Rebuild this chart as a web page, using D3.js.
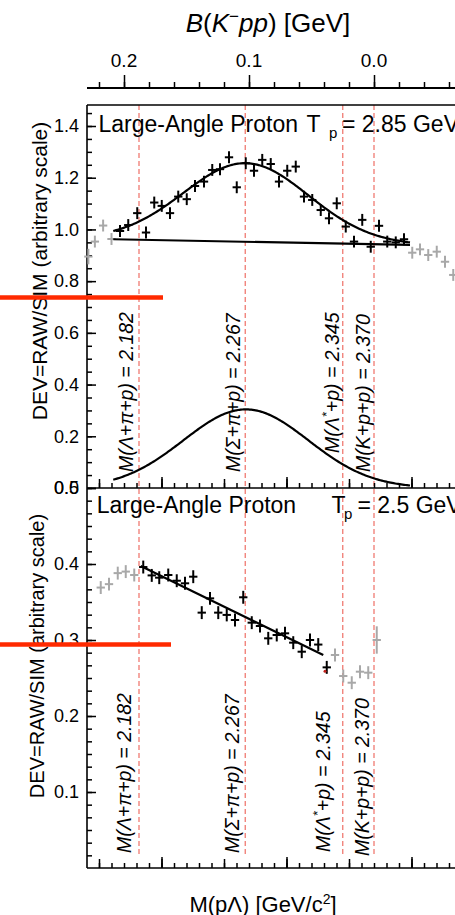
<!DOCTYPE html>
<html><head><meta charset="utf-8">
<script src="https://cdn.jsdelivr.net/npm/d3@7"></script>
<style>
body{margin:0;background:#fff;}
svg{display:block;font-family:"Liberation Sans",Arial,Helvetica,sans-serif;}
</style></head><body>
<svg id="c" width="455" height="915"></svg>
<script>
// ---------------- DATA ----------------
// Panel 1 (Tp = 2.85 GeV): fitted points (black)
const p1M = [2.1668,2.1734,2.1806,2.1876,2.1942,2.2002,2.2068,2.2134,2.2202,2.2268,2.2340,2.2406,2.2468,2.2540,2.2602,2.2674,2.2740,2.2806,2.2874,2.2940,2.3006,2.3074,2.3140,2.3206,2.3274,2.3340,2.3402,2.3474,2.3540,2.3606,2.3674,2.3740,2.3806,2.3874,2.3940];
const p1Val = [0.994,1.017,1.063,0.988,1.104,1.091,1.063,1.127,1.117,1.168,1.185,1.230,1.233,1.279,1.163,1.256,1.227,1.269,1.253,1.185,1.227,1.243,1.127,1.114,1.075,1.043,1.101,1.011,0.953,1.037,0.933,1.014,0.953,0.950,0.962];
const p1Err = [0.023,0.023,0.023,0.023,0.023,0.023,0.023,0.023,0.023,0.023,0.023,0.023,0.023,0.023,0.023,0.023,0.023,0.023,0.023,0.023,0.023,0.023,0.023,0.023,0.023,0.023,0.023,0.023,0.023,0.023,0.023,0.023,0.023,0.023,0.023];
// Panel 1: points outside fit range (grey)
const p1GrayM = [2.1415,2.1467,2.1533,2.1600,2.4006,2.4068,2.4134,2.4202,2.4268,2.4334];
const p1GrayVal = [0.895,0.953,1.015,0.963,0.910,0.923,0.901,0.914,0.875,0.824];
const p1GrayErr = [0.030,0.023,0.023,0.023,0.023,0.023,0.023,0.023,0.023,0.023];
// Panel 1 fit: Gaussian + linear background
const p1FitRange = [2.1614, 2.3988];
const p1BgEnds = [0.962, 0.940];
const p1GaussMean = 2.2675, p1GaussSigma = 0.050, p1GaussAmp = 0.304;

// Panel 2 (Tp = 2.5 GeV)
const p2M = [2.1854,2.1922,2.1982,2.2054,2.2122,2.2188,2.2254,2.2322,2.2388,2.2454,2.2522,2.2588,2.2654,2.2722,2.2788,2.2854,2.2922,2.2988,2.3054,2.3122,2.3188,2.3254,2.3322];
const p2Val = [0.396,0.385,0.382,0.3855,0.378,0.3746,0.3833,0.336,0.3548,0.336,0.333,0.3263,0.3562,0.3228,0.3184,0.3022,0.3066,0.3088,0.2965,0.2846,0.300,0.294,0.264];
const p2Err = [0.0085,0.0085,0.0085,0.0085,0.0085,0.0085,0.0085,0.0085,0.0085,0.0085,0.0085,0.0085,0.0085,0.0085,0.0085,0.0085,0.0085,0.0085,0.0085,0.0085,0.0085,0.0085,0.0085];
const p2GrayM = [2.1514,2.1580,2.1650,2.1714,2.1782,2.3388,2.3454,2.3522,2.3588,2.3654,2.3722];
const p2GrayVal = [0.369,0.3735,0.388,0.390,0.3855,0.2803,0.2526,0.2438,0.2583,0.257,0.300];
const p2GrayErr = [0.0085,0.0085,0.0085,0.0085,0.0085,0.0085,0.0085,0.0085,0.0085,0.0085,0.018];
const p2FitM = [2.1834, 2.3294];
const p2FitVal = [0.3974, 0.2803];
const p2Dot = {M: 2.3308, v: 0.259};

// Thresholds (dashed lines)
const thrMass = [2.182, 2.267, 2.345, 2.370];
const thrLabel = [["M(Λ+π+", "p", ") = 2.182", ""], ["M(Σ+π+", "p", ") = 2.267", ""], ["M(Λ", "*", "+p) = 2.345", "sup"], ["M(K+p+", "p", ") = 2.370", ""]];
// Red marker bars
const redBarVal1 = 0.737, redBarEnd1 = 2.2012;
const redBarVal2 = 0.294, redBarEnd2 = 2.2076;

// Tick labels
const bTicks = [0.2, 0.1, 0.0];
const y1Ticks = [0.0, 0.2, 0.4, 0.6, 0.8, 1.0, 1.2, 1.4];
const y2Ticks = [0.1, 0.2, 0.3, 0.4, 0.5];

// ---------------- LAYOUT ----------------
const svg = d3.select("#c");
const X0 = 87, XR = 460;
const x = d3.scaleLinear().domain([2.2, 2.4]).range([161.5, 411.5]);
const xB = d3.scaleLinear().domain([0.2, 0.0]).range([x(2.17), x(2.37)]);
const y1 = d3.scaleLinear().domain([0, 1.4]).range([488, 126]);
const y2 = d3.scaleLinear().domain([0, 0.5]).range([868, 488]);
const TOP = 105, MID = 488, BOT = 868, AXT = 88;
const dashColor = "#f07a72", red = "#ff2a00", gray = "#a8a8a8";

function tickAxis(axisFn, scale, vals, size, tr) {
  const g = svg.append("g").attr("transform", tr)
    .call(axisFn(scale).tickValues(vals).tickSize(size).tickFormat(""));
  g.select(".domain").remove();
  g.selectAll("line").attr("stroke", "#000").attr("stroke-width", 1.5);
}

// dashed threshold lines
svg.append("g").selectAll("line").data(thrMass).join("line")
  .attr("x1", d => x(d)).attr("x2", d => x(d))
  .attr("y1", TOP).attr("y2", 855)
  .attr("stroke", dashColor).attr("stroke-width", 1.3).attr("stroke-dasharray", "5,3");

// Frame lines
const frame = svg.append("g").attr("stroke", "#000").attr("stroke-width", 1.6);
frame.append("line").attr("x1", X0).attr("x2", X0).attr("y1", TOP).attr("y2", BOT);
[TOP, MID, BOT].forEach(yy => frame.append("line").attr("x1", X0).attr("x2", XR).attr("y1", yy).attr("y2", yy));
frame.append("line").attr("x1", X0).attr("x2", XR).attr("y1", AXT).attr("y2", AXT).attr("stroke-width", 2);

// Top B axis
const bMinor = d3.range(-6, 23, 2).map(k => k / 100).filter(b => xB(b) > X0 + 1 && xB(b) < 455);
tickAxis(d3.axisTop, xB, bMinor, 6, `translate(0,${AXT})`);
tickAxis(d3.axisTop, xB, bTicks, 13, `translate(0,${AXT})`);
svg.append("g").selectAll("text").data(bTicks).join("text")
  .attr("x", d => xB(d)).attr("y", 66.5).attr("text-anchor", "middle")
  .attr("font-size", 19).text(d => d.toFixed(1));
const tt = svg.append("text").attr("x", 268).attr("y", 31.7).attr("text-anchor", "middle").attr("font-size", 26);
tt.append("tspan").attr("font-style", "italic").text("B");
tt.append("tspan").text("(");
tt.append("tspan").attr("font-style", "italic").text("K");
tt.append("tspan").attr("font-size", 17).attr("dy", -10).text("−");
tt.append("tspan").attr("font-style", "italic").attr("dy", 10).text("pp");
tt.append("tspan").text(") [GeV]");

// Bottom ticks (panel 1 bottom and panel 2 bottom)
const mAll = d3.range(215, 244).map(k => k / 100).filter(m => x(m) > X0 + 1 && x(m) < 455);
[MID, BOT].forEach(yy => {
  tickAxis(d3.axisTop, x, mAll, 5, `translate(0,${yy})`);
  tickAxis(d3.axisTop, x, mAll.filter(m => Math.round(m * 100) % 5 === 0), 9, `translate(0,${yy})`);
  tickAxis(d3.axisTop, x, mAll.filter(m => Math.round(m * 100) % 10 === 0), 11, `translate(0,${yy})`);
});

// Y axes ticks
tickAxis(d3.axisRight, y1, d3.range(0, 30).map(k => k * 0.05).filter(v => y1(v) > TOP + 1), 5, `translate(${X0},0)`);
tickAxis(d3.axisRight, y1, y1Ticks, 9, `translate(${X0},0)`);
tickAxis(d3.axisRight, y2, d3.range(1, 30).map(k => k / 60), 5, `translate(${X0},0)`);
tickAxis(d3.axisRight, y2, y2Ticks, 9, `translate(${X0},0)`);
function yLabels(scale, vals) {
  const g = svg.append("g").attr("transform", `translate(${X0},0)`)
    .call(d3.axisLeft(scale).tickValues(vals).tickSize(0).tickPadding(8).tickFormat(d3.format(".1f")));
  g.select(".domain").remove();
  g.selectAll("text").attr("font-size", 18).attr("font-family", "Liberation Sans, Arial, sans-serif").attr("fill", "#000");
}
yLabels(y1, y1Ticks);
yLabels(y2, y2Ticks);

// Y axis titles
svg.append("text").attr("transform", "translate(47,271) rotate(-90)").attr("text-anchor", "middle")
  .attr("font-size", 21).text("DEV=RAW/SIM (arbitrary scale)");
svg.append("text").attr("transform", "translate(43.5,656) rotate(-90)").attr("text-anchor", "middle")
  .attr("font-size", 20).text("DEV=RAW/SIM (arbitrary scale)");

// Bottom title
const bt = svg.append("text").attr("x", 263).attr("y", 911.5).attr("text-anchor", "middle").attr("font-size", 22);
bt.append("tspan").text("M(pΛ) [GeV/c");
bt.append("tspan").attr("font-size", 14).attr("dy", -8).text("2");
bt.append("tspan").attr("dy", 8).text("]");

// Panel headers
function header(yb, xL, xT, xp, xe, txt) {
  const t = svg.append("g").attr("font-size", 23);
  t.append("text").attr("x", xL).attr("y", yb).text("Large-Angle Proton");
  t.append("text").attr("x", xT).attr("y", yb).text("T");
  t.append("text").attr("x", xp).attr("y", yb + 6).attr("font-size", 15).text("p");
  t.append("text").attr("x", xe).attr("y", yb).text(txt);
}
header(131.7, 98.5, 306.5, 329, 342, "= 2.85 GeV");
header(513, 96.7, 331.5, 344, 357.5, "= 2.5 GeV");

// Rotated threshold labels
const lblCfg = [
  {y0: [472, 472, 453, 472], dx: [-6, -5, -4, -4]},
  {y0: [853, 853, 852, 856], dx: [-8, -6, -13, -5]}
];
lblCfg.forEach(cfg => {
  thrMass.forEach((m, i) => {
    const t = svg.append("text").attr("transform", `translate(${x(m) + cfg.dx[i]},${cfg.y0[i]}) rotate(-90)`)
      .attr("font-size", 19.5).attr("font-style", "italic");
    const L = thrLabel[i];
    t.append("tspan").text(L[0]);
    if (L[3] === "sup") {
      t.append("tspan").attr("font-size", 13).attr("dy", -8).text(L[1]);
      t.append("tspan").attr("dy", 8).text(L[2]);
    } else {
      t.append("tspan").text(L[1]);
      t.append("tspan").text(L[2]);
    }
  });
});

// Crosses
const halfBin = 1 / 300;
function crosses(Ms, Vs, Es, ys, color) {
  const g = svg.append("g").attr("stroke", color).attr("stroke-width", 2);
  Ms.forEach((m, i) => {
    g.append("line").attr("x1", x(m)).attr("x2", x(m)).attr("y1", ys(Vs[i] - Es[i])).attr("y2", ys(Vs[i] + Es[i]));
    g.append("line").attr("x1", x(m - halfBin)).attr("x2", x(m + halfBin)).attr("y1", ys(Vs[i])).attr("y2", ys(Vs[i]));
  });
}
crosses(p1GrayM, p1GrayVal, p1GrayErr, y1, gray);
crosses(p2GrayM, p2GrayVal, p2GrayErr, y2, gray);
crosses(p1M, p1Val, p1Err, y1, "#000");
crosses(p2M, p2Val, p2Err, y2, "#000");

// Panel 1 fit curves
const bg = d3.scaleLinear().domain(p1FitRange).range(p1BgEnds);
const gauss = m => p1GaussAmp * Math.exp(-0.5 * ((m - p1GaussMean) / p1GaussSigma) ** 2);
const ms = d3.range(0, 201).map(k => p1FitRange[0] + (p1FitRange[1] - p1FitRange[0]) * k / 200);
const ln1 = d3.line().x(d => x(d[0])).y(d => y1(d[1]));
svg.append("path").attr("d", ln1(ms.map(m => [m, bg(m) + gauss(m)])))
  .attr("fill", "none").attr("stroke", "#000").attr("stroke-width", 2.2);
svg.append("path").attr("d", ln1(p1FitRange.map(m => [m, bg(m)])))
  .attr("fill", "none").attr("stroke", "#000").attr("stroke-width", 2.2);
svg.append("path").attr("d", ln1(ms.map(m => [m, gauss(m)])))
  .attr("fill", "none").attr("stroke", "#000").attr("stroke-width", 2.2);

// Panel 2 fit line
const ln2 = d3.line().x(d => x(d[0])).y(d => y2(d[1]));
svg.append("path").attr("d", ln2(p2FitM.map((m, i) => [m, p2FitVal[i]])))
  .attr("fill", "none").attr("stroke", "#000").attr("stroke-width", 2.2);
svg.append("circle").attr("cx", x(p2Dot.M)).attr("cy", y2(p2Dot.v)).attr("r", 1.5).attr("fill", "#c0201a");

// Red marker bars
svg.append("line").attr("x1", 0).attr("x2", x(redBarEnd1)).attr("y1", y1(redBarVal1)).attr("y2", y1(redBarVal1))
  .attr("stroke", red).attr("stroke-width", 4.5);
svg.append("line").attr("x1", 0).attr("x2", x(redBarEnd2)).attr("y1", y2(redBarVal2)).attr("y2", y2(redBarVal2))
  .attr("stroke", red).attr("stroke-width", 4.5);
</script>
</body></html>
